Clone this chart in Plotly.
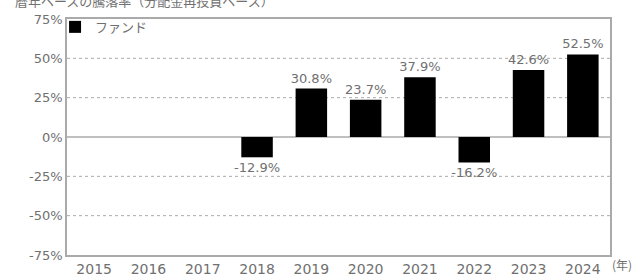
import plotly.graph_objects as go

years = ["2015", "2016", "2017", "2018", "2019", "2020", "2021", "2022", "2023", "2024"]
fund_returns = [None, None, None, -12.9, 30.8, 23.7, 37.9, -16.2, 42.6, 52.5]
y_ticks = [75, 50, 25, 0, -25, -50, -75]
y_tick_labels = ["75%", "50%", "25%", "0%", "-25%", "-50%", "-75%"]
series_name = "ファンド"

font_family = "DejaVu Sans, Noto Sans CJK JP, sans-serif"
jp_family = "Noto Sans CJK JP, sans-serif"
txt = "#707070"

labels = [None if v is None else f"{v:.1f}%" for v in fund_returns]

fig = go.Figure()
fig.add_trace(go.Bar(
    x=years, y=fund_returns, name=series_name,
    marker=dict(color="#000000", line=dict(width=0)),
    width=0.58,
    text=labels, textposition="outside", constraintext="none",
    textfont=dict(color=txt, size=13, family=font_family),
    cliponaxis=False,
    showlegend=True,
))

for v in [50, 25, -25, -50]:
    fig.add_shape(type="line", xref="paper", x0=0, x1=1, yref="y", y0=v, y1=v,
                  line=dict(color="#aaaaaa", width=1, dash="dot"), layer="below")
fig.add_shape(type="line", xref="paper", x0=0, x1=1, yref="y", y0=0, y1=0,
              line=dict(color="#aaaaaa", width=1.5), layer="below")

fig.add_annotation(text="(年)", xref="paper", yref="paper", x=1.0, y=-0.042,
                   xanchor="left", yanchor="middle", showarrow=False,
                   font=dict(size=12, color=txt, family=jp_family))
fig.add_annotation(text="暦年ベースの騰落率（分配金再投資ベース）", xref="paper", yref="paper",
                   x=-0.1, y=1.078, xanchor="left", yanchor="middle", showarrow=False,
                   font=dict(size=13, color=txt, family=jp_family))

fig.update_layout(
    width=641, height=277,
    margin=dict(l=67, r=31, t=17, b=22),
    paper_bgcolor="white", plot_bgcolor="white",
    font=dict(family=font_family, color=txt),
    legend=dict(x=-0.022, y=1.03, xanchor="left", yanchor="top",
                bgcolor="rgba(0,0,0,0)", font=dict(size=13, color=txt, family=jp_family),
                itemwidth=30, tracegroupgap=0),
    xaxis=dict(type="category", categoryorder="array", categoryarray=years,
               showgrid=False, ticks="", showline=True, linecolor="#aaaaaa", linewidth=1.5,
               mirror=True, tickfont=dict(size=14, color=txt), automargin=False),
    yaxis=dict(range=[-75, 75], tickvals=y_ticks, ticktext=y_tick_labels,
               showgrid=False, zeroline=False, showline=True, linecolor="#aaaaaa",
               linewidth=1.5, mirror=True, ticks="", automargin=False,
               tickfont=dict(size=13, color=txt)),
)

fig.write_html("out.html", config={"displayModeBar": False},
               post_script="document.body.style.margin='0';")
